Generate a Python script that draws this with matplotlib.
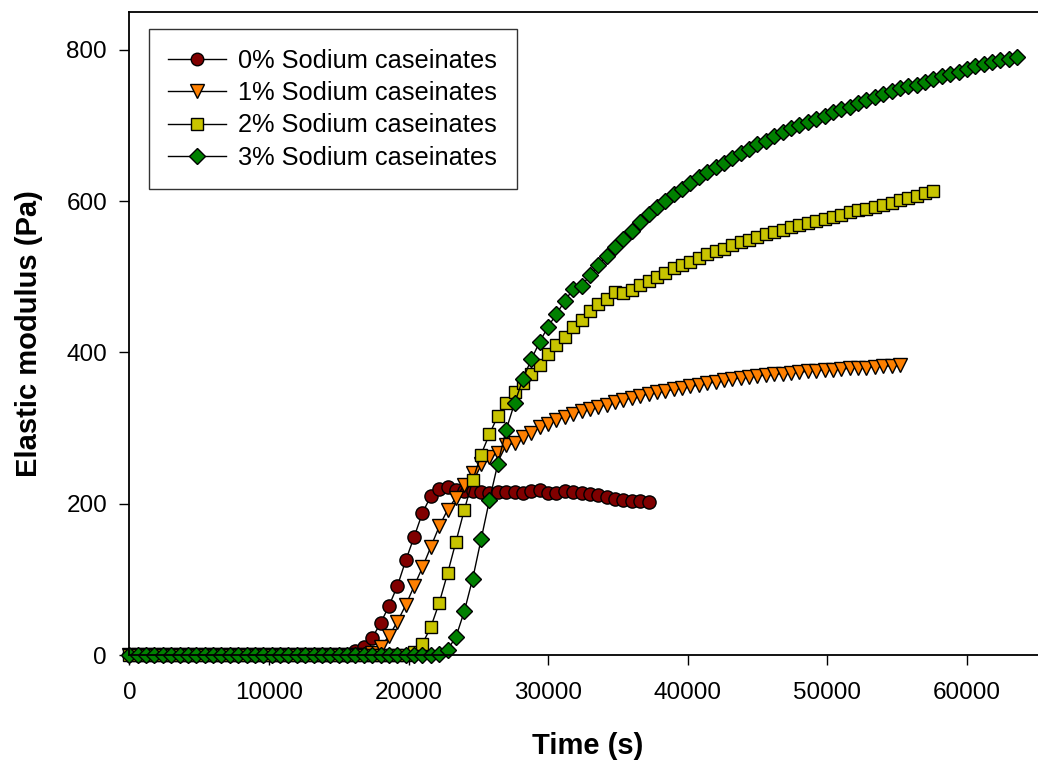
import matplotlib.pyplot as plt
import numpy as np

plt.rcParams['font.family'] = ['Liberation Sans', 'DejaVu Sans']

# Данные: время отбора (с), шаг 600 с
dt = 600

g0 = [0] * 27 + [5, 11, 23, 42, 65, 91, 125, 156, 188, 210, 219, 222,
                 218, 217, 217, 216, 214, 215, 216, 215, 214, 217, 218, 214,
                 214, 217, 216, 214, 213, 211, 209, 206, 205, 204, 203, 202]

g1 = [0] * 29 + [3, 11, 25, 44, 66, 91, 116, 143, 170, 192, 208, 225,
                 240, 252, 262, 267, 277, 280, 288, 293, 301, 306, 311, 315,
                 319, 322, 325, 328, 331, 334, 337, 340, 343, 345, 347, 349,
                 351, 353, 355, 357, 359, 361, 363, 365, 366, 368, 369, 370,
                 371, 372, 373, 374, 375, 376, 377, 377, 378, 379, 380, 380,
                 381, 382, 382, 383]

g2 = [0] * 34 + [4, 15, 37, 69, 108, 150, 192, 231, 265, 292, 316, 333,
                 348, 360, 372, 384, 398, 410, 421, 433, 443, 455, 464, 471,
                 480, 478, 483, 489, 494, 500, 505, 511, 515, 520, 525, 530,
                 534, 537, 542, 546, 549, 553, 556, 559, 562, 566, 568, 571,
                 574, 576, 579, 582, 585, 588, 590, 592, 595, 597, 601, 604,
                 607, 611, 613]

g3 = [0] * 37 + [1, 7, 24, 58, 101, 153, 205, 253, 298, 333, 365, 391,
                 414, 434, 451, 468, 484, 488, 502, 515, 528, 539, 550, 561,
                 572, 583, 592, 600, 609, 616, 624, 632, 638, 645, 651, 657,
                 663, 669, 675, 680, 686, 691, 696, 700, 705, 709, 713, 718,
                 722, 725, 730, 733, 738, 742, 745, 750, 752, 754, 757, 762,
                 765, 768, 771, 775, 778, 781, 784, 786, 788, 790]

series = [g0, g1, g2, g3]
labels = ['0% Sodium caseinates', '1% Sodium caseinates',
          '2% Sodium caseinates', '3% Sodium caseinates']
markers = ['o', 'v', 's', 'D']
colors = ['#800000', '#ff8000', '#c8c400', '#008000']
sizes = [9.5, 10.0, 9.0, 8.5]

fig = plt.figure(figsize=(10.38, 7.62), dpi=100)
ax = fig.add_axes([0.1246, 0.1404, 0.8822, 0.8439])

for vals, lab, m, c, s in zip(series, labels, markers, colors, sizes):
    t = np.arange(len(vals)) * dt
    ax.plot(t, vals, color='black', lw=1.0, marker=m, markersize=s,
            markerfacecolor=c, markeredgecolor='black', markeredgewidth=1.0,
            label=lab, clip_on=False)

ax.set_xlim(0, 65600)
ax.set_ylim(0, 850)
ax.set_xticks([0, 10000, 20000, 30000, 40000, 50000, 60000])
ax.set_yticks([0, 200, 400, 600, 800])
ax.spines['right'].set_visible(False)
for sp in ['left', 'bottom', 'top']:
    ax.spines[sp].set_linewidth(1.3)
ax.tick_params(direction='out', length=7, width=1.0, labelsize=17.5)
ax.tick_params(axis='x', pad=12.5)
ax.tick_params(axis='y', pad=9)

ax.set_xlabel('Time (s)', fontsize=21, fontweight='bold', labelpad=20)
ax.set_ylabel('Elastic modulus (Pa)', fontsize=21, fontweight='bold', labelpad=17)

leg = ax.legend(loc='upper left', bbox_to_anchor=(0.021, 0.973), fontsize=18.3,
                frameon=True, fancybox=False, edgecolor='black',
                handlelength=2.25, handletextpad=0.5, labelspacing=0.32,
                borderpad=0.78, borderaxespad=0, markerscale=0.95)
leg.get_frame().set_linewidth(1.0)

plt.savefig('out.png', dpi=100)
